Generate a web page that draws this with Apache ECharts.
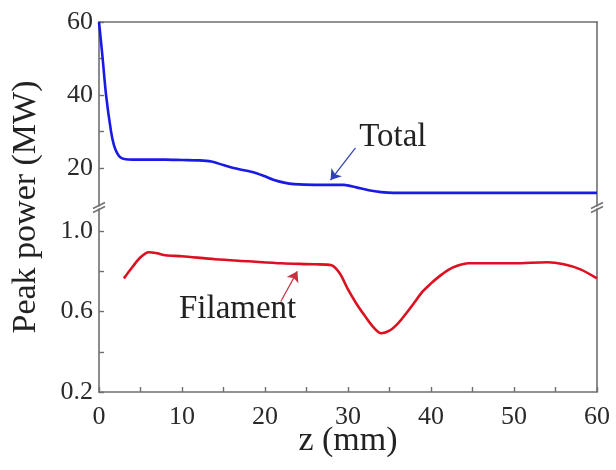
<!DOCTYPE html>
<html>
<head>
<meta charset="utf-8">
<script src="https://cdn.jsdelivr.net/npm/echarts@6/dist/echarts.min.js"></script>
<style>
html,body{margin:0;padding:0;background:#fff;}
#chart{width:616px;height:470px;}
</style>
</head>
<body>
<div id="chart"></div>
<script>
// ---- data ----
var totalZ = [0, 0.4, 0.85, 1.45, 1.8, 2.2, 2.6, 3.2, 4, 6, 8, 10, 12, 13.5, 15, 16.2, 17.5, 18.7, 19.9, 21, 22.3, 23.5, 26, 29.5, 31, 32.5, 34, 35.5, 40, 45, 50, 55, 60];
var totalP = [60, 51, 40, 30, 26.3, 24.0, 22.9, 22.4, 22.3, 22.3, 22.3, 22.2, 22.1, 21.8, 20.8, 20.0, 19.4, 18.8, 17.8, 16.8, 16.0, 15.6, 15.4, 15.4, 14.7, 13.9, 13.4, 13.2, 13.2, 13.2, 13.2, 13.2, 13.2];
var filZ = [3.0, 4, 5, 6, 7, 8, 10, 14, 18, 22, 26, 28, 29, 30, 31, 32, 33, 34, 35, 36, 37, 38, 39, 40, 41, 42, 43, 44.5, 50, 54, 56, 58, 60];
var filP = [0.765, 0.82, 0.87, 0.895, 0.89, 0.88, 0.875, 0.86, 0.85, 0.84, 0.835, 0.83, 0.79, 0.71, 0.64, 0.58, 0.525, 0.492, 0.505, 0.54, 0.59, 0.645, 0.70, 0.74, 0.775, 0.805, 0.825, 0.84, 0.84, 0.845, 0.835, 0.81, 0.765];
var topLabels = [20, 40, 60];
var topTicks = [20, 30, 40, 50, 60];
var botLabels = [0.2, 0.6, 1.0];
var botTicks = [0.2, 0.4, 0.6, 0.8, 1.0];
var xLabelStep = 10;

// ---- layout ----
var L = 99, R = 597, T = 22, B = 392, breakTop = 206, breakBot = 209;
var FONT = "'Liberation Serif','Times New Roman',serif";
var AX = '#6f6f6f';

function pairs(xs, ys) { return xs.map(function (x, i) { return [x, ys[i]]; }); }

var chart = echarts.init(document.getElementById('chart'), null, {renderer: 'canvas'});
var axisLine = {show: true, lineStyle: {color: AX, width: 1.6}};
var labelStyle = {fontFamily: FONT, fontSize: 26, color: '#2a2a2a'};

function breakMark(x, y) {
  return {
    type: 'group', x: x, y: y, children: [
      {type: 'rect', shape: {x: -7, y: -5, width: 14, height: 10}, style: {fill: '#fff'}},
      {type: 'line', shape: {x1: -6, y1: 1, x2: 6, y2: -5}, style: {stroke: AX, lineWidth: 1.4}},
      {type: 'line', shape: {x1: -6, y1: 5, x2: 6, y2: -1}, style: {stroke: AX, lineWidth: 1.4}}
    ]
  };
}

var option = {
  animation: false,
  backgroundColor: '#fff',
  grid: [
    {left: L, right: 616 - R, top: T, height: breakTop - T},
    {left: L, right: 616 - R, top: breakBot, height: B - breakBot},
    {left: L, right: 616 - R, top: T, height: B - T}
  ],
  xAxis: [
    {gridIndex: 0, type: 'value', min: 0, max: 60, position: 'top', axisLine: axisLine,
      axisTick: {show: false}, axisLabel: {show: false}, splitLine: {show: false}},
    {gridIndex: 1, type: 'value', min: 0, max: 60, interval: 5, position: 'bottom', axisLine: axisLine,
      axisTick: {show: true, inside: true, length: 5, lineStyle: {color: AX, width: 1.4}},
      axisLabel: Object.assign({margin: 12, formatter: function (v) { return v % xLabelStep === 0 ? String(v) : ''; }}, labelStyle),
      splitLine: {show: false},
      name: 'z (mm)', nameLocation: 'middle', nameGap: 32, nameMoveOverlap: false,
      nameTextStyle: {fontFamily: FONT, fontSize: 34, color: '#222'}},
    {gridIndex: 2, type: 'value', min: 0, max: 60, show: false}
  ],
  yAxis: [
    {gridIndex: 0, type: 'value', min: 9.6, max: 60, position: 'left', axisLine: axisLine,
      axisTick: {show: true, inside: true, length: 5, customValues: topTicks, lineStyle: {color: AX, width: 1.4}},
      axisLabel: Object.assign({margin: 6, customValues: topLabels}, labelStyle),
      splitLine: {show: false}},
    {gridIndex: 0, type: 'value', min: 9.6, max: 60, position: 'right', axisLine: axisLine,
      axisTick: {show: false}, axisLabel: {show: false}, splitLine: {show: false}},
    {gridIndex: 1, type: 'value', min: 0.2, max: 1.11, position: 'left', axisLine: axisLine,
      axisTick: {show: true, inside: true, length: 5, customValues: botTicks, lineStyle: {color: AX, width: 1.4}},
      axisLabel: Object.assign({margin: 6, customValues: botLabels, formatter: function (v) { return v.toFixed(1); }}, labelStyle),
      splitLine: {show: false}},
    {gridIndex: 1, type: 'value', min: 0.2, max: 1.11, position: 'right', axisLine: axisLine,
      axisTick: {show: false}, axisLabel: {show: false}, splitLine: {show: false}},
    {gridIndex: 2, type: 'value', min: 0, max: 1, position: 'left',
      axisLine: {show: false}, axisTick: {show: false}, axisLabel: {show: false}, splitLine: {show: false},
      name: 'Peak power (MW)', nameLocation: 'middle', nameGap: 56, nameRotate: 90,
      nameTextStyle: {fontFamily: FONT, fontSize: 34, color: '#222'}}
  ],
  series: [
    {
      name: 'Total', type: 'line', xAxisIndex: 0, yAxisIndex: 0,
      data: pairs(totalZ, totalP), showSymbol: false, smooth: 0.3,
      lineStyle: {color: '#1a1ae6', width: 2.6}, itemStyle: {color: '#1a1ae6'},
      markPoint: {
        symbol: 'circle', symbolSize: 0, silent: true,
        label: {show: true, position: 'inside', formatter: 'Total', fontFamily: FONT, fontSize: 33, color: '#222'},
        data: [{coord: [35.4, 28.5]}]
      },
      markLine: {
        silent: true, symbol: ['none', 'arrow'], symbolSize: 10,
        label: {show: false},
        lineStyle: {color: '#2f3fb8', width: 1.2, type: 'solid'},
        itemStyle: {color: '#1a1ae6'},
        data: [[{coord: [30.9, 25.5]}, {coord: [27.9, 16.7]}]]
      }
    },
    {
      name: 'Filament', type: 'line', xAxisIndex: 1, yAxisIndex: 2,
      data: pairs(filZ, filP), showSymbol: false, smooth: 0.3,
      lineStyle: {color: '#dc1020', width: 2.6}, itemStyle: {color: '#dc1020'},
      markPoint: {
        symbol: 'circle', symbolSize: 0, silent: true,
        label: {show: true, position: 'inside', formatter: 'Filament', fontFamily: FONT, fontSize: 33, color: '#222'},
        data: [{coord: [16.7, 0.61]}]
      },
      markLine: {
        silent: true, symbol: ['none', 'arrow'], symbolSize: 10,
        label: {show: false},
        lineStyle: {color: '#c83040', width: 1.2, type: 'solid'},
        itemStyle: {color: '#dc1020'},
        data: [[{coord: [21.9, 0.65]}, {coord: [23.9, 0.80]}]]
      }
    }
  ],
  graphic: [
    breakMark(L, (breakTop + breakBot) / 2),
    breakMark(R, (breakTop + breakBot) / 2)
  ]
};
chart.setOption(option);
</script>
</body>
</html>
